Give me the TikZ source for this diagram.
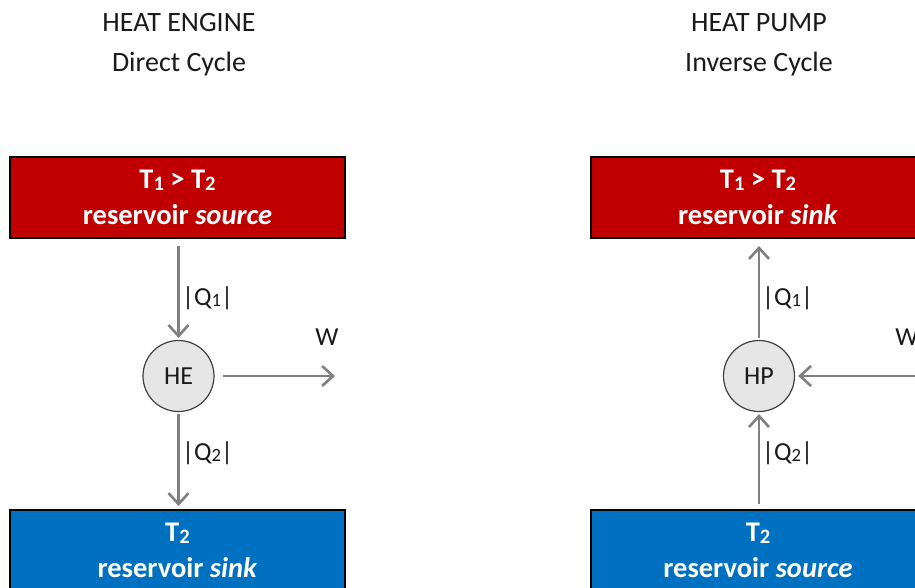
\documentclass[tikz,border=0pt]{standalone}
\usepackage{fontspec}
\setmainfont{Carlito}
\usetikzlibrary{arrows.meta}
\definecolor{redbox}{HTML}{C00000}
\definecolor{bluebox}{HTML}{0070C0}
\definecolor{arrowgray}{HTML}{808080}
\definecolor{circfill}{HTML}{E6E6E6}
\definecolor{circdraw}{HTML}{404040}
\definecolor{txt}{HTML}{1A1A1A}
\newcommand\lowsub[1]{\raisebox{-0.06em}{\fontsize{0.72em}{1em}\selectfont #1}}
\begin{document}
\begin{tikzpicture}[x=1pt,y=-1pt,
  reservoir/.style={draw=black, line width=2pt, minimum width=335pt, minimum height=81pt,
    inner sep=0pt, text=white, font=\fontsize{28.5}{36}\selectfont\bfseries, align=center},
  title/.style={font=\fontsize{28}{40}\selectfont, align=center, text=txt},
  engine/.style={circle, draw=circdraw, fill=circfill, line width=1.2pt, minimum size=71pt,
    inner sep=0pt, font=\fontsize{26}{26}\selectfont, text=txt},
  flow/.style={draw=arrowgray, line width=2.6pt, -{Straight Barb[length=11pt,width=20pt]}},
  lbl/.style={font=\fontsize{26}{26}\selectfont, text=txt, inner sep=0pt}]
\useasboundingbox (0,0) rectangle (915,587);
\clip (0,0) rectangle (915,587);
% ---- left: heat engine
\node[title] (t1) at (179,45) {HEAT ENGINE\\Direct Cycle};
\node[reservoir, fill=redbox] (hot1) at (177.5,197.5) {T\lowsub{1} > T\lowsub{2}\\reservoir \textit{source}};
\node[reservoir, fill=bluebox] (cold1) at (177.5,550.5) {T\lowsub{2}\\reservoir \textit{sink}};
\node[engine] (he) at (178.5,376) {HE};
\coordinate (w1) at (335,376);
\draw[flow, shorten >=2pt] ([yshift=-7pt]hot1.south -| he) -- (he);
\draw[flow, shorten >=3pt, shorten <=2pt] (he) -- (cold1.north -| he);
\draw[flow] ([xshift=8pt]he.east) -- (w1);
\node[lbl, anchor=west] (q1a) at (182,298) {|Q\lowsub{1}|};
\node[lbl, anchor=west] (q2a) at (182,453) {|Q\lowsub{2}|};
\node[lbl] (wa) at (327,337) {W};
% ---- right: heat pump
\node[title] (t2) at (759,45) {HEAT PUMP\\Inverse Cycle};
\node[reservoir, fill=redbox] (hot2) at (758,197.5) {T\lowsub{1} > T\lowsub{2}\\reservoir \textit{sink}};
\node[reservoir, fill=bluebox] (cold2) at (758,550.5) {T\lowsub{2}\\reservoir \textit{source}};
\node[engine] (hp) at (759,376) {HP};
\coordinate (w2) at (930,376);
\draw[flow, shorten <=2pt] (hp) -- ([yshift=-7pt]hot2.south -| hp);
\draw[flow, shorten >=2pt] ([yshift=5pt]cold2.north -| hp) -- (hp);
\draw[flow, shorten >=3pt] (w2) -- (hp);
\node[lbl, anchor=west] (q1b) at (762,298) {|Q\lowsub{1}|};
\node[lbl, anchor=west] (q2b) at (762,453) {|Q\lowsub{2}|};
\node[lbl] (wb) at (907,337) {W};
\end{tikzpicture}
\end{document}
